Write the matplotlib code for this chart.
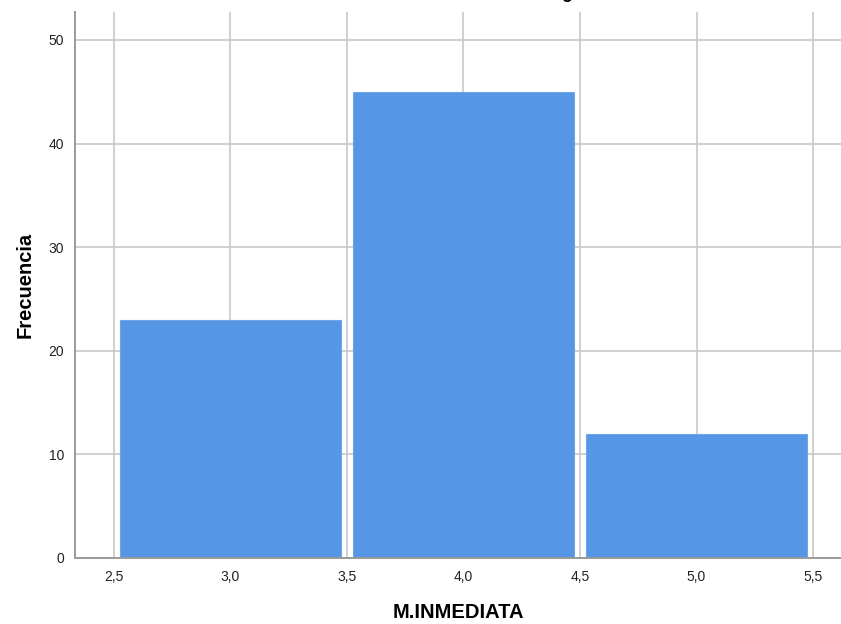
import matplotlib.pyplot as plt
import matplotlib.ticker as ticker

plt.rcParams['font.family'] = ['Liberation Sans', 'DejaVu Sans']

# histogram bins (left edge, right edge) and counts
bin_left = [2.5, 3.5, 4.5]
bin_right = [3.5, 4.5, 5.5]
counts = [23, 45, 12]

x_ticks = [2.5, 3.0, 3.5, 4.0, 4.5, 5.0, 5.5]
y_ticks = [0, 10, 20, 30, 40, 50]

fig = plt.figure(figsize=(8.41, 6.24), dpi=100)
ax = fig.add_axes([0.0892, 0.1058, 0.9108, 0.875])

centers = [(a + b) / 2 for a, b in zip(bin_left, bin_right)]
widths = [(b - a) * 0.95 for a, b in zip(bin_left, bin_right)]
ax.bar(centers, counts, width=widths, color='#5596E5', edgecolor='#6fa6ea',
       linewidth=0.8, zorder=2)

ax.set_xlim(2.333, 5.62)
ax.set_ylim(0, 52.7)
ax.set_xticks(x_ticks)
ax.set_yticks(y_ticks)
ax.xaxis.set_major_formatter(ticker.FuncFormatter(lambda v, p: f'{v:.1f}'.replace('.', ',')))
ax.tick_params(length=0, labelsize=10, colors='#222222')
ax.tick_params(axis='x', pad=9)
ax.tick_params(axis='y', pad=8)

ax.grid(True, color='#c8c8c8', linewidth=1.2, zorder=0)
ax.set_axisbelow(True)
for s in ['top', 'right']:
    ax.spines[s].set_visible(False)
for s in ['left', 'bottom']:
    ax.spines[s].set_color('#9a9a9a')
    ax.spines[s].set_linewidth(1.4)

ax.set_xlabel('M.INMEDIATA', fontsize=14.5, fontweight='bold', labelpad=13)
ax.set_ylabel('Frecuencia', fontsize=14.5, fontweight='bold', labelpad=10)

# title cut off at top edge of the image
fig.text(0.733, 1.004, 'Histograma', fontsize=13, fontweight='bold',
         ha='right', va='baseline')

fig.savefig('out.png', dpi=100)
